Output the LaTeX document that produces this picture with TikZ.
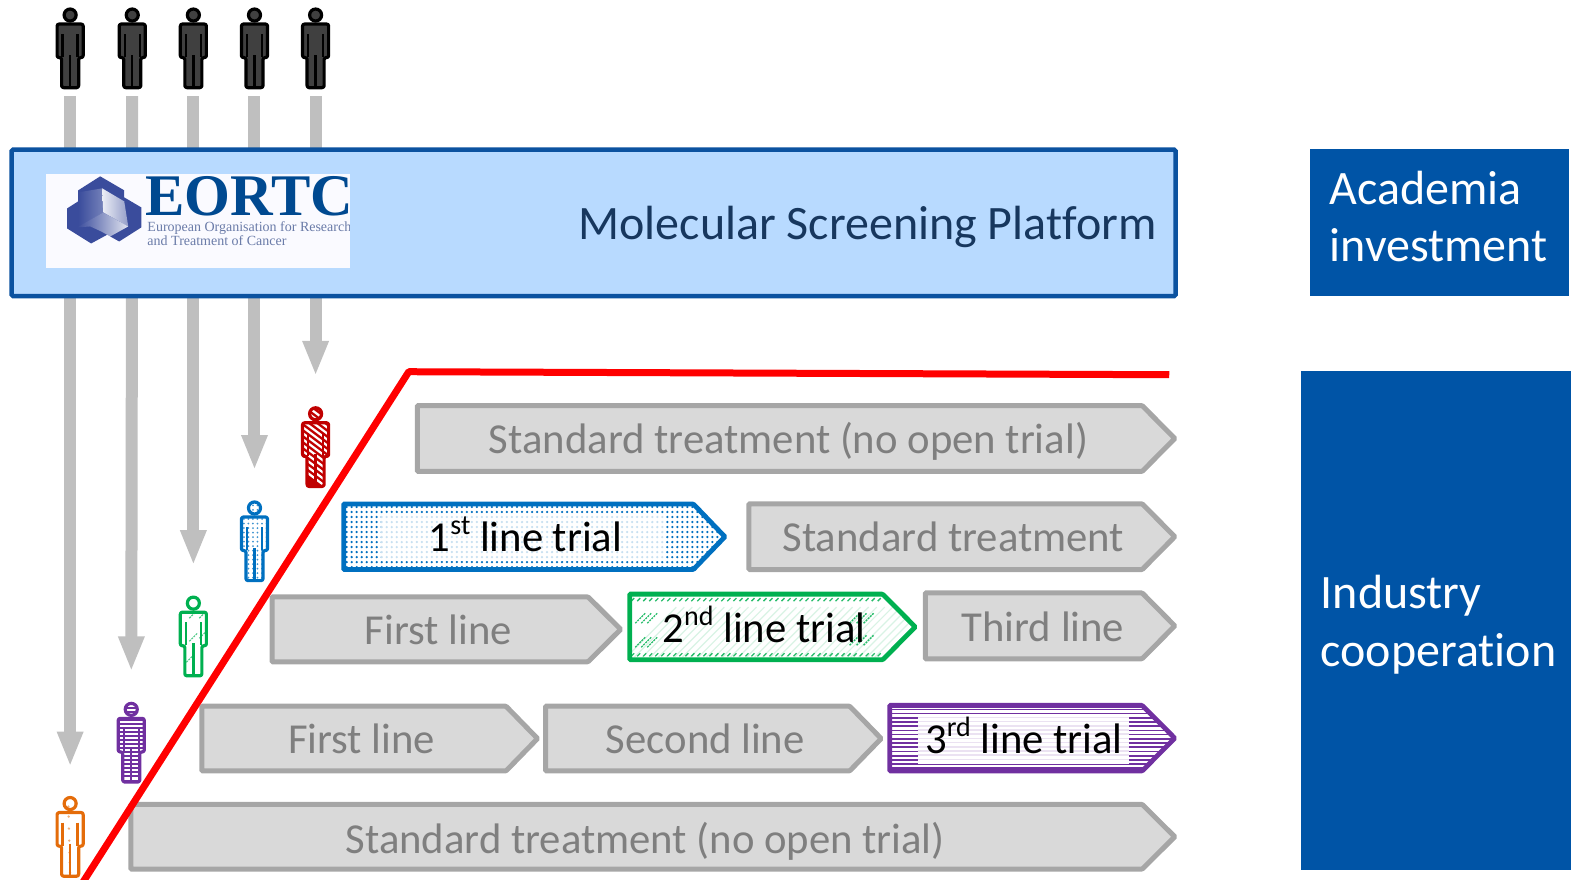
\documentclass[tikz,border=0pt]{standalone}
\usepackage{fontspec}
\setmainfont{Carlito}[Ligatures=NoCommon]
\newfontfamily\logofont{Liberation Serif}
\usetikzlibrary{arrows.meta}
\definecolor{bluebox}{HTML}{0054A6}
\definecolor{platfill}{HTML}{B8DAFF}
\definecolor{platline}{HTML}{0B52A0}
\definecolor{platext}{HTML}{17375E}
\definecolor{shaft}{HTML}{BFBFBF}
\definecolor{gline}{HTML}{A6A6A6}
\definecolor{gfill}{HTML}{D9D9D9}
\definecolor{gtext}{HTML}{7F7F7F}
\definecolor{tblue}{HTML}{0070C0}
\definecolor{tgreen}{HTML}{00B050}
\definecolor{tpurple}{HTML}{7030A0}
\definecolor{tred}{HTML}{C00000}
\definecolor{torange}{HTML}{E46C0A}
\definecolor{logoblue}{HTML}{004990}
\definecolor{logogrey}{HTML}{6A7BA8}
\definecolor{logohex}{HTML}{3A4C9C}
\newcommand{\sups}[1]{\raisebox{.40em}{\fontsize{28}{28}\selectfont #1}}
\newcommand{\arrowshape}[5]{(#1,#2) -- (#5,#2) -- (#3,{(#2+#4)/2}) -- (#5,#4) -- (#1,#4) -- cycle}
\newcommand{\bodyshape}{(-13,16) -- (13,16) -- (13,49.5) -- (8.5,49.5) -- (8.5,79.5) -- (-8.5,79.5) -- (-8.5,49.5) -- (-13,49.5) -- cycle}
\newcommand{\headshape}{(0,7) circle[radius=6]}
\newcommand{\person}[6]{%
  \node[persnode] (#1) at (#2,#3+40.5) {};
  \begin{scope}[shift={(#2,#3)}]
    \fill[#5,rounded corners=2pt] \bodyshape;
    \fill[#5] \headshape;
    \begin{scope}
      \clip[rounded corners=2pt] \bodyshape \headshape;
      #6
    \end{scope}
    \draw[#4,line width=3.2pt,rounded corners=2pt,line join=round] \bodyshape;
    \draw[#4,line width=3.2pt] \headshape;
    \draw[#4,line width=2.4pt] (-7.5,26) -- (-7.5,49) (7.5,26) -- (7.5,49) (0,47) -- (0,79);
  \end{scope}}
\newcommand{\grayarrow}[9]{%
  \draw[grayshape] \arrowshape{#2}{#3}{#4}{#5}{#6};
  \node[graylabel] (#1) at (#7,#8) {#9};}
\tikzset{
  persnode/.style={minimum width=30pt,minimum height=81pt,inner sep=0,outer sep=0},
  grayshape/.style={draw=gline,fill=gfill,line width=5pt,rounded corners=1pt,line join=miter},
  graylabel/.style={text=gtext,font=\fontsize{42.7}{43}\selectfont,inner sep=0,anchor=base},
  triallabel/.style={text=black,font=\fontsize{42.7}{43}\selectfont,inner sep=0,anchor=base},
  flow/.style={draw=shaft,line width=12pt,-{Triangle[width=24pt,length=35pt]},shorten <=7pt,shorten >=31pt},
  sidebox/.style={fill=bluebox,draw=none},
  sidetext/.style={text=white,font=\fontsize{48}{57.5}\selectfont,align=left,inner sep=0,anchor=north west},
}
\begin{document}
\begin{tikzpicture}[x=1.002pt,y=-1.002pt]
\useasboundingbox (0,0) rectangle (1568,878.3);

% upper row of people
\foreach \n/\cx in {p1/70,p2/132,p3/193,p4/254,p5/315}{
  \person{\n}{\cx}{8}{black}{black!75}{}
}
% lower row of people
\person{q5}{315}{406}{tred}{tred}{%
  \foreach \k in {-30,-24,...,60}{\draw[white,line width=2.2pt] (-16,\k) -- (16,\k+24);}}
\person{q4}{254}{500}{tblue}{white}{%
  \foreach \a in {-15,-10.5,...,15}{\foreach \b in {0,4.5,...,81}{\fill[tblue!75] (\a,\b) circle[radius=1];}}}
\person{q3}{193}{595}{tgreen}{white}{%
  \foreach \a/\b in {-4/22,6/22,-4/45,-7/66,6/42}{\draw[tgreen!70,line width=1.2pt,dash pattern=on 2pt off 1pt] (\a,\b) -- (\a+8,\b-8);}}
\person{q2}{131}{701}{tpurple}{white}{%
  \foreach \k in {2,6,...,82}{\draw[tpurple,line width=2pt] (-16,\k) -- (16,\k);}}
\person{q1}{70}{795}{torange}{white}{%
  \foreach \b in {10,20,32,44,56,66,76}{\fill[torange!55] (-2+\b/40,\b) circle[radius=1.3];}}

% flows
\draw[flow,shorten >=30pt] (p1.south) -- (q1.north);
\draw[flow] (p2.south) -- (q2.north);
\draw[flow] (p3.south) -- (q3.north);
\draw[flow] (p4.south) -- (q4.north);
\draw[flow] (p5.south) -- (q5.north);

% platform
\node[draw=platline,fill=platfill,line width=4.5pt,rounded corners=1.5pt,minimum width=1164pt,minimum height=146.5pt,inner sep=0,outer sep=0] (platform) at (592.5,222.5) {};
\node[text=platext,font=\fontsize{48}{48}\selectfont,inner sep=0,anchor=base east] (platlabel) at (1154.5,239) {Molecular Screening Platform};

% logo
\fill[white!98!blue] (46,174) rectangle (349,267);
\begin{scope}
  \clip (46,174) rectangle (349,267);
  \fill[logohex]
    (67,208) -- (78,201) -- (78,190) -- (100,176) -- (124,190) -- (124,197) -- (141,207) -- (141,227) -- (119,241) -- (110,236) -- (113,231) -- (91,243) -- (67,228) -- cycle;
  \shade[left color=logohex,right color=logohex!70!white]
    (78,192) -- (102,188) -- (103,212) -- (78,227) -- cycle;
  \shade[left color=white!90!logohex,right color=logohex!55!white]
    (102,188) -- (124,201) -- (128,226) -- (103,212) -- cycle;
  \shade[left color=logohex,right color=white!85!logohex]
    (77,227) -- (103,212) -- (128,226) -- (110,236) -- (101,231) -- (90,226) -- cycle;
  \node[anchor=base west,inner sep=0,text=logoblue,font=\logofont\bfseries\fontsize{59}{59}\selectfont] (eortc) at (145,215) {EORTC};
  \node[anchor=north west,inner sep=0,align=left,text=logogrey,font=\logofont\fontsize{14}{12.5}\selectfont] (eortc1) at (147,221.5) {European Organisation for Research\\and Treatment of Cancer};
\end{scope}

% grey arrows
\grayarrow{g1}{416.5}{404.8}{1172.5}{470.5}{1140}{787}{452.5}{Standard treatment (no open trial)}
\grayarrow{g2}{747.5}{502.8}{1172.5}{568.5}{1140}{951.5}{550.5}{Standard treatment}
\grayarrow{g3}{271.5}{595.8}{619.5}{660.5}{587}{437.5}{643.5}{First line}
\grayarrow{g4}{923.5}{591.8}{1172.5}{657.5}{1140}{1041}{640.5}{Third line}
\grayarrow{g5}{201.5}{704.8}{536.5}{769.5}{505}{361}{752}{First line}
\grayarrow{g6}{544.5}{704.8}{879.5}{769.5}{848}{704}{752}{Second line}
\grayarrow{g7}{130.5}{802.8}{1172.5}{867.5}{1140}{644}{851.5}{Standard treatment (no open trial)}

% first line trial
\fill[white] \arrowshape{343}{503}{723.5}{568.5}{692};
\begin{scope}
  \clip \arrowshape{343}{503}{723.5}{568.5}{692};
  \foreach \a in {346,351,...,725}{\foreach \b in {506,511,...,570}{\fill[tblue] (\a,\b) circle[radius=1.25];}}
  \fill[white] (380,513) rectangle (665,560);
  \foreach \a in {381,386,...,665}{\foreach \b in {516,521,...,560}{\fill[tblue!22] (\a,\b) circle[radius=1.25];}}
\end{scope}
\draw[draw=tblue,line width=4.8pt,rounded corners=1pt] \arrowshape{343}{503}{723.5}{568.5}{692};
\node[triallabel] (t1) at (524.5,550.5) {1\sups{st} line trial};

% second line trial
\fill[white] \arrowshape{628.5}{593}{913.5}{658.5}{881};
\begin{scope}
  \clip \arrowshape{628.5}{593}{913.5}{658.5}{881};
  \foreach \a in {625,633,...,900}{\draw[tgreen!15,line width=1.2pt] (\a,656) -- (\a+50,606);}
  \foreach \a in {630,636,...,880}{\draw[tgreen!85,line width=1.3pt] (\a,600) -- (\a+3,597);
    \draw[tgreen!85,line width=1.3pt] (\a,655) -- (\a+3,652);}
  \foreach \a/\b in {634/622,640/622,646/622,634/646,640/646,646/646,848/622,855/622,862/622,848/644,855/644,862/644}{
    \draw[tgreen!85,line width=1.3pt,dash pattern=on 2pt off 1pt] (\a,\b) -- (\a+10,\b-10);}
\end{scope}
\draw[draw=tgreen,line width=4.8pt,rounded corners=1pt] \arrowshape{628.5}{593}{913.5}{658.5}{881};
\node[triallabel] (t2) at (762.5,641) {2\sups{nd} line trial};

% third line trial
\fill[white] \arrowshape{888}{704}{1172.5}{769.5}{1140};
\begin{scope}
  \clip \arrowshape{888}{704}{1172.5}{769.5}{1140};
  \foreach \k in {708,712.2,...,770}{\draw[tpurple,line width=1.7pt] (885,\k) -- (1175,\k);}
  \fill[white] (916,714) rectangle (1127,763);
  \foreach \k in {716,720.2,...,762}{\draw[tpurple!14,line width=1.7pt] (916,\k) -- (1127,\k);}
\end{scope}
\draw[draw=tpurple,line width=4.8pt,rounded corners=1pt] \arrowshape{888}{704}{1172.5}{769.5}{1140};
\node[triallabel] (t3) at (1022,752) {3\sups{rd} line trial};

% red line
\begin{scope}
  \clip (0,0) rectangle (1568,878.3);
  \coordinate (r0) at (78,888);
  \coordinate (r1) at (408,371);
  \coordinate (r2) at (1167,374);
  \draw[red,line width=7pt,line join=round] (r0) -- (r1) -- (r2);
\end{scope}

% side boxes
\fill[sidebox] (1307,149) rectangle (1566,295);
\node[sidetext] (acad) at (1327,170.5) {Academia\\investment};
\fill[sidebox] (1298.5,370) rectangle (1568,868);
\node[sidetext] (indu) at (1318,574) {Industry\\cooperation};
\end{tikzpicture}
\end{document}
